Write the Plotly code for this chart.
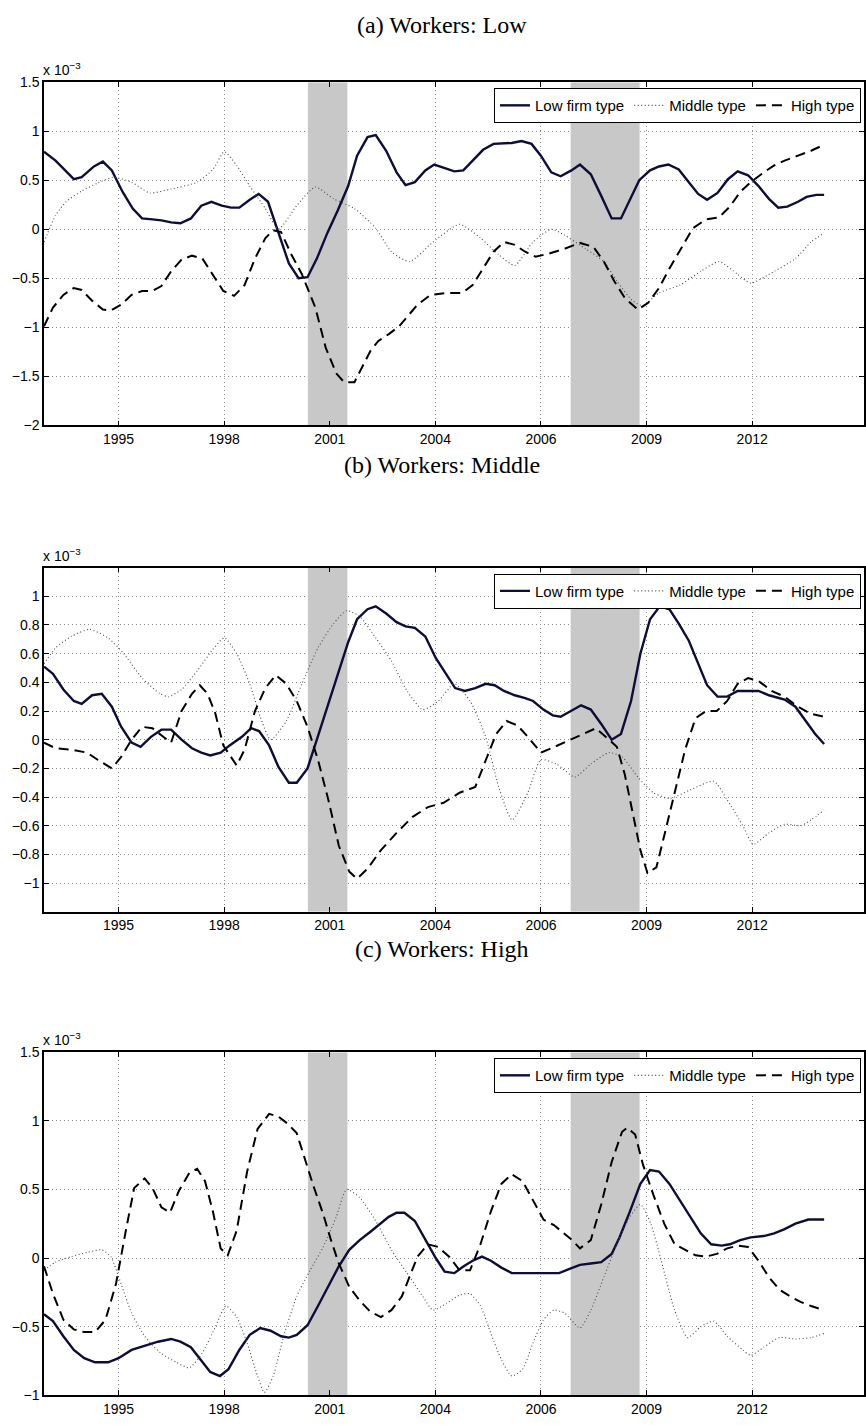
import plotly.graph_objects as go

# ---------------- data (values in units of 10^-3) ----------------
A_LOW_X = [1993.00,1993.31,1993.80,1994.01,1994.34,1994.58,1994.82,1995.11,1995.38,1995.63,1995.91,1996.15,1996.41,1996.66,1996.94,1997.22,1997.49,1997.77,1998.02,1998.24,1998.52,1998.76,1999.01,1999.29,1999.57,1999.83,2000.07,2000.32,2000.60,2000.88,2001.16,2001.40,2001.68,2001.90,2002.18,2002.46,2002.70,2002.95,2003.23,2003.47,2003.72,2004.01,2004.25,2004.50,2004.78,2005.06,2005.34,2005.55,2005.81,2006.08,2006.33,2006.61,2006.86,2007.15,2007.38,2007.67,2007.95,2008.23,2008.48,2008.72,2008.97,2009.26,2009.50,2009.75,2010.03,2010.30,2010.55,2010.79,2011.07,2011.35,2011.61,2011.89,2012.17,2012.45,2012.70,2012.94,2013.23,2013.46,2013.72,2013.93]
A_LOW_Y = [0.79,0.70,0.51,0.53,0.64,0.69,0.60,0.38,0.21,0.11,0.10,0.09,0.07,0.06,0.11,0.24,0.28,0.24,0.22,0.22,0.30,0.36,0.28,-0.03,-0.35,-0.50,-0.49,-0.30,-0.04,0.19,0.44,0.75,0.94,0.96,0.80,0.58,0.45,0.48,0.60,0.66,0.63,0.59,0.60,0.70,0.81,0.87,0.88,0.88,0.90,0.87,0.75,0.58,0.54,0.60,0.66,0.56,0.34,0.11,0.11,0.31,0.50,0.60,0.64,0.66,0.61,0.48,0.36,0.30,0.37,0.51,0.59,0.55,0.44,0.31,0.22,0.23,0.28,0.33,0.35,0.35]

A_MID_X = [1993.00,1993.31,1993.59,1994.01,1994.44,1994.86,1995.35,1995.84,1996.41,1997.11,1997.53,1997.84,1998.17,1998.52,1998.94,1999.29,1999.78,2000.28,2000.77,2001.33,2001.90,2002.32,2002.81,2003.44,2004.15,2004.71,2005.20,2005.63,2006.12,2006.61,2006.96,2007.53,2008.02,2008.37,2008.79,2009.07,2009.50,2010.06,2010.62,2011.11,2011.61,2011.96,2012.59,2013.16,2013.58,2013.93]
A_MID_Y = [-0.13,0.14,0.28,0.39,0.47,0.53,0.48,0.37,0.41,0.48,0.61,0.79,0.65,0.44,0.21,0.00,0.24,0.43,0.31,0.21,0.01,-0.23,-0.33,-0.13,0.05,-0.09,-0.26,-0.37,-0.13,0.00,-0.06,-0.20,-0.33,-0.53,-0.73,-0.78,-0.65,-0.57,-0.43,-0.33,-0.46,-0.55,-0.43,-0.30,-0.13,-0.04]

A_HIGH_X = [1993.00,1993.24,1993.52,1993.80,1994.01,1994.29,1994.58,1994.79,1995.07,1995.35,1995.63,1995.91,1996.15,1996.41,1996.69,1996.97,1997.25,1997.53,1997.81,1998.10,1998.38,1998.66,1998.94,1999.15,1999.36,1999.64,1999.92,2000.28,2000.56,2000.84,2001.05,2001.33,2001.54,2001.76,2001.97,2002.25,2002.53,2002.74,2003.02,2003.37,2003.80,2004.22,2004.50,2004.78,2005.06,2005.34,2005.63,2005.91,2006.19,2006.54,2006.96,2007.38,2007.74,2008.02,2008.30,2008.58,2008.93,2009.21,2009.50,2009.78,2010.09,2010.41,2010.76,2011.11,2011.40,2011.68,2011.96,2012.31,2012.59,2012.87,2013.23,2013.58,2013.86]
A_HIGH_Y = [-0.99,-0.80,-0.67,-0.60,-0.62,-0.73,-0.82,-0.83,-0.77,-0.67,-0.63,-0.63,-0.58,-0.43,-0.31,-0.27,-0.30,-0.46,-0.63,-0.68,-0.57,-0.30,-0.09,-0.01,-0.03,-0.26,-0.46,-0.80,-1.21,-1.47,-1.56,-1.56,-1.41,-1.24,-1.14,-1.07,-0.99,-0.90,-0.77,-0.67,-0.65,-0.65,-0.57,-0.40,-0.23,-0.13,-0.16,-0.23,-0.28,-0.25,-0.20,-0.14,-0.18,-0.33,-0.53,-0.70,-0.82,-0.75,-0.60,-0.40,-0.20,0.01,0.10,0.12,0.23,0.38,0.48,0.58,0.65,0.70,0.75,0.80,0.85]

B_LOW_X = [1993.00,1993.24,1993.52,1993.80,1994.01,1994.29,1994.55,1994.82,1995.07,1995.35,1995.59,1995.87,1996.15,1996.41,1996.69,1996.97,1997.22,1997.46,1997.74,1997.98,1998.31,1998.56,1998.77,1999.04,1999.29,1999.57,1999.78,2000.07,2000.32,2000.60,2000.88,2001.16,2001.40,2001.68,2001.90,2002.18,2002.46,2002.70,2002.95,2003.23,2003.51,2003.80,2004.03,2004.29,2004.57,2004.85,2005.09,2005.34,2005.63,2005.91,2006.12,2006.40,2006.65,2006.86,2007.15,2007.41,2007.67,2007.95,2008.23,2008.48,2008.75,2009.00,2009.26,2009.52,2009.78,2010.03,2010.30,2010.55,2010.79,2011.07,2011.33,2011.61,2011.89,2012.17,2012.45,2012.87,2013.16,2013.44,2013.69,2013.93]
B_LOW_Y = [0.51,0.46,0.35,0.27,0.25,0.31,0.32,0.23,0.09,-0.02,-0.05,0.02,0.07,0.07,0.00,-0.06,-0.09,-0.11,-0.09,-0.04,0.02,0.08,0.06,-0.04,-0.19,-0.30,-0.30,-0.20,0.00,0.23,0.46,0.68,0.84,0.91,0.93,0.88,0.82,0.79,0.78,0.72,0.57,0.45,0.36,0.34,0.36,0.39,0.38,0.34,0.31,0.29,0.27,0.21,0.17,0.16,0.20,0.24,0.21,0.11,0.00,0.04,0.27,0.60,0.84,0.93,0.91,0.81,0.69,0.53,0.38,0.30,0.30,0.34,0.34,0.34,0.31,0.28,0.23,0.13,0.04,-0.03]

B_MID_X = [1993.00,1993.31,1993.73,1994.22,1994.72,1995.14,1995.63,1996.12,1996.34,1996.69,1997.11,1997.53,1997.84,1998.17,1998.52,1998.80,1999.08,1999.50,1999.92,2000.35,2000.77,2001.12,2001.47,2001.90,2002.32,2002.74,2003.16,2003.58,2004.01,2004.43,2004.85,2005.20,2005.56,2005.98,2006.33,2006.75,2007.24,2007.67,2008.16,2008.51,2008.93,2009.35,2009.78,2010.34,2010.97,2011.33,2011.75,2012.03,2012.45,2012.87,2013.30,2013.58,2013.93]
B_MID_Y = [0.53,0.64,0.72,0.77,0.71,0.60,0.43,0.32,0.30,0.35,0.48,0.63,0.71,0.60,0.39,0.16,0.00,0.13,0.39,0.64,0.81,0.90,0.86,0.71,0.55,0.34,0.21,0.27,0.39,0.27,0.02,-0.33,-0.56,-0.37,-0.14,-0.17,-0.26,-0.17,-0.09,-0.12,-0.26,-0.37,-0.41,-0.35,-0.29,-0.42,-0.60,-0.73,-0.65,-0.59,-0.60,-0.56,-0.49]

B_HIGH_X = [1993.00,1993.31,1993.73,1994.15,1994.44,1994.82,1995.07,1995.35,1995.63,1995.91,1996.20,1996.41,1996.69,1996.97,1997.18,1997.39,1997.60,1997.81,1998.17,1998.38,1998.66,1998.94,1999.22,1999.50,1999.78,2000.07,2000.35,2000.63,2000.91,2001.19,2001.40,2001.68,2002.04,2002.46,2002.88,2003.30,2003.72,2004.15,2004.57,2004.85,2005.13,2005.41,2005.70,2005.98,2006.33,2006.61,2006.96,2007.38,2007.81,2008.16,2008.37,2008.58,2008.79,2009.00,2009.19,2009.43,2009.64,2009.92,2010.20,2010.48,2010.76,2011.05,2011.33,2011.61,2011.89,2012.17,2012.52,2012.87,2013.23,2013.58,2013.93]
B_HIGH_Y = [-0.02,-0.06,-0.07,-0.09,-0.14,-0.20,-0.12,0.00,0.09,0.08,0.02,-0.02,0.20,0.32,0.38,0.32,0.18,-0.04,-0.18,-0.07,0.20,0.36,0.45,0.39,0.27,0.09,-0.14,-0.42,-0.74,-0.92,-0.97,-0.90,-0.77,-0.65,-0.54,-0.47,-0.44,-0.37,-0.33,-0.14,0.04,0.13,0.10,0.02,-0.09,-0.06,-0.02,0.03,0.08,0.00,-0.05,-0.24,-0.51,-0.77,-0.93,-0.89,-0.67,-0.37,-0.07,0.15,0.20,0.20,0.27,0.39,0.43,0.41,0.34,0.30,0.23,0.18,0.16]

C_LOW_X = [1993.00,1993.24,1993.52,1993.80,1994.08,1994.37,1994.72,1995.00,1995.35,1995.70,1996.06,1996.41,1996.66,1996.94,1997.22,1997.46,1997.72,1997.95,1998.24,1998.52,1998.80,1999.08,1999.36,1999.57,1999.78,2000.07,2000.35,2000.63,2000.91,2001.19,2001.47,2001.75,2002.04,2002.25,2002.46,2002.67,2002.95,2003.23,2003.51,2003.75,2004.01,2004.26,2004.50,2004.75,2004.99,2005.27,2005.55,2005.84,2006.12,2006.40,2006.82,2007.10,2007.38,2007.67,2007.95,2008.23,2008.44,2008.72,2009.00,2009.26,2009.50,2009.78,2010.06,2010.34,2010.62,2010.90,2011.18,2011.40,2011.68,2011.96,2012.31,2012.59,2012.87,2013.16,2013.51,2013.93]
C_LOW_Y = [-0.41,-0.46,-0.57,-0.67,-0.73,-0.76,-0.76,-0.73,-0.67,-0.64,-0.61,-0.59,-0.61,-0.65,-0.75,-0.83,-0.86,-0.81,-0.67,-0.56,-0.51,-0.53,-0.57,-0.58,-0.56,-0.49,-0.35,-0.21,-0.06,0.06,0.13,0.19,0.25,0.30,0.33,0.33,0.27,0.13,0.00,-0.10,-0.11,-0.06,-0.02,0.01,-0.02,-0.07,-0.11,-0.11,-0.11,-0.11,-0.11,-0.08,-0.05,-0.04,-0.03,0.03,0.15,0.34,0.54,0.64,0.63,0.54,0.42,0.30,0.18,0.10,0.09,0.10,0.13,0.15,0.16,0.18,0.21,0.25,0.28,0.28]

C_MID_X = [1993.00,1993.31,1993.73,1994.15,1994.55,1994.79,1995.07,1995.35,1995.70,1996.12,1996.55,1996.90,1997.25,1997.60,1997.88,1998.17,1998.45,1998.73,1998.91,1999.15,1999.43,1999.78,2000.14,2000.49,2000.84,2001.12,2001.47,2001.90,2002.32,2002.74,2003.16,2003.44,2003.80,2004.15,2004.43,2004.71,2004.99,2005.27,2005.55,2005.84,2006.12,2006.40,2006.68,2006.96,2007.38,2007.67,2008.02,2008.37,2008.72,2009.00,2009.28,2009.56,2009.92,2010.27,2010.62,2010.97,2011.33,2011.75,2011.96,2012.31,2012.73,2013.16,2013.58,2013.93]
C_MID_Y = [-0.09,-0.03,0.01,0.04,0.06,0.01,-0.19,-0.40,-0.57,-0.69,-0.76,-0.80,-0.69,-0.50,-0.35,-0.43,-0.62,-0.86,-0.98,-0.86,-0.57,-0.28,-0.09,0.08,0.30,0.50,0.44,0.27,0.06,-0.11,-0.28,-0.38,-0.33,-0.27,-0.26,-0.35,-0.55,-0.74,-0.86,-0.81,-0.62,-0.45,-0.38,-0.40,-0.51,-0.38,-0.14,0.10,0.30,0.39,0.25,-0.02,-0.38,-0.58,-0.50,-0.46,-0.57,-0.67,-0.71,-0.65,-0.58,-0.59,-0.58,-0.55]

C_HIGH_X = [1993.00,1993.24,1993.52,1993.80,1994.08,1994.37,1994.65,1994.93,1995.21,1995.42,1995.70,1995.91,1996.15,1996.38,1996.62,1996.90,1997.11,1997.32,1997.53,1997.74,1997.93,1998.17,1998.45,1998.73,1999.04,1999.29,1999.53,1999.78,1999.99,2000.21,2000.49,2000.70,2000.91,2001.19,2001.47,2001.75,2002.04,2002.32,2002.60,2002.81,2003.02,2003.30,2003.58,2003.87,2004.15,2004.43,2004.71,2004.99,2005.27,2005.55,2005.84,2006.12,2006.40,2006.68,2006.96,2007.17,2007.38,2007.67,2007.95,2008.23,2008.51,2008.65,2008.86,2009.07,2009.35,2009.64,2009.92,2010.20,2010.48,2010.76,2011.05,2011.33,2011.61,2011.89,2012.17,2012.45,2012.73,2013.02,2013.30,2013.58,2013.93]
C_HIGH_Y = [-0.06,-0.26,-0.45,-0.52,-0.54,-0.54,-0.45,-0.19,0.22,0.51,0.58,0.51,0.37,0.33,0.49,0.62,0.65,0.56,0.34,0.07,0.02,0.20,0.63,0.94,1.05,1.03,0.98,0.91,0.73,0.54,0.32,0.13,-0.04,-0.21,-0.31,-0.39,-0.43,-0.38,-0.28,-0.14,0.01,0.10,0.08,0.01,-0.09,-0.09,0.10,0.34,0.54,0.61,0.56,0.42,0.28,0.24,0.18,0.13,0.07,0.13,0.39,0.70,0.92,0.95,0.90,0.68,0.46,0.25,0.10,0.06,0.02,0.01,0.03,0.07,0.09,0.08,-0.02,-0.14,-0.23,-0.28,-0.32,-0.35,-0.38]

RECESSIONS = [(2000.08, 2001.14), (2007.13, 2008.98)]
X_TICK_VALS = [1995.0, 1997.833, 2000.667, 2003.5, 2006.333, 2009.167, 2012.0]
X_TICK_TEXT = ["1995", "1998", "2001", "2004", "2006", "2009", "2012"]
PANEL_TITLES = ["(a) Workers: Low", "(b) Workers: Middle", "(c) Workers: High"]
SERIES_NAMES = ["Low firm type", "Middle type", "High type"]
Y_RANGES = [(-2, 1.5), (-1.2, 1.2), (-1, 1.5)]
Y_TICKS = [[-2, -1.5, -1, -0.5, 0, 0.5, 1, 1.5],
           [-1, -0.8, -0.6, -0.4, -0.2, 0, 0.2, 0.4, 0.6, 0.8, 1],
           [-1, -0.5, 0, 0.5, 1, 1.5]]

panels = [
    [(A_LOW_X, A_LOW_Y), (A_MID_X, A_MID_Y), (A_HIGH_X, A_HIGH_Y)],
    [(B_LOW_X, B_LOW_Y), (B_MID_X, B_MID_Y), (B_HIGH_X, B_HIGH_Y)],
    [(C_LOW_X, C_LOW_Y), (C_MID_X, C_MID_Y), (C_HIGH_X, C_HIGH_Y)],
]

# ---------------- layout geometry ----------------
W, H = 866, 1425
L, R = 44, 1
PLOT_TOPS = [75, 566, 1056]
PLOT_BOTS = [422, 914, 1403]
TITLE_Y = [17, 462, 952]

styles = [
    dict(color="#0d0d38", width=2.4, dash="solid"),
    dict(color="#4a4a4a", width=1.1, dash="1px,2.5px"),
    dict(color="#000000", width=2.0, dash="10px,6px"),
]
shapes_ = ["linear", "spline", "linear"]

fig = go.Figure()
annotations = []
layout = dict(width=W, height=H, margin=dict(l=L, r=R, t=0, b=0),
              plot_bgcolor="white", paper_bgcolor="white",
              font=dict(family="Liberation Sans", size=14, color="black"))

for p in range(3):
    sfx = "" if p == 0 else str(p + 1)
    xa, ya = "x" + sfx, "y" + sfx
    legname = "legend" + sfx
    ylo, yhi = Y_RANGES[p]
    # recession shading (drawn first, under the lines)
    for (r0, r1) in RECESSIONS:
        fig.add_trace(go.Scatter(
            x=[r0, r1, r1, r0, r0], y=[ylo, ylo, yhi, yhi, ylo], mode="lines",
            fill="toself", fillcolor="#c8c8c8", line=dict(width=0, color="#c8c8c8"),
            hoverinfo="skip", showlegend=False, xaxis=xa, yaxis=ya, legend=legname))
    for s, (xs, ys) in enumerate(panels[p]):
        fig.add_trace(go.Scatter(
            x=xs, y=ys, mode="lines", name=SERIES_NAMES[s],
            line=dict(color=styles[s]["color"], width=styles[s]["width"],
                      dash=styles[s]["dash"], shape=shapes_[s], smoothing=0.6),
            xaxis=xa, yaxis=ya, legend=legname, showlegend=True))
    d0 = 1 - PLOT_BOTS[p] / H
    d1 = 1 - PLOT_TOPS[p] / H
    axis_common = dict(showline=True, linecolor="black", linewidth=1.5, mirror="ticks",
                       ticks="inside", ticklen=5, tickcolor="black", tickwidth=1,
                       showgrid=True, gridcolor="#8a8a8a", gridwidth=1, griddash="1px,3px",
                       zeroline=False, tickfont=dict(family="Liberation Sans", size=14))
    layout["xaxis" + sfx] = dict(axis_common, domain=[0, 1], range=[1993, 2015],
                                 anchor=ya, tickvals=X_TICK_VALS, ticktext=X_TICK_TEXT)
    layout["yaxis" + sfx] = dict(axis_common, domain=[d0, d1], range=[ylo, yhi],
                                 anchor=xa, tickvals=Y_TICKS[p])
    layout[legname] = dict(orientation="h", x=(862 - L) / (W - L - R), xanchor="right",
                           y=1 - (PLOT_TOPS[p] + 6) / H, yanchor="top",
                           bgcolor="white", bordercolor="black", borderwidth=1,
                           font=dict(family="Liberation Sans", size=15),
                           itemwidth=30, tracegroupgap=0)
    annotations.append(dict(text=PANEL_TITLES[p], xref="paper", yref="paper",
                            x=(442 - L) / (W - L - R), y=1 - TITLE_Y[p] / H,
                            xanchor="center", yanchor="middle", showarrow=False,
                            font=dict(family="Liberation Serif", size=24)))
    annotations.append(dict(text="x 10<sup>−3</sup>", xref="paper", yref="paper",
                            x=0, y=d1, xanchor="left", yanchor="bottom", yshift=2,
                            xshift=-3, showarrow=False,
                            font=dict(family="Liberation Sans", size=14)))

layout["annotations"] = annotations
fig.update_layout(**layout)
fig.write_html("out.html")
